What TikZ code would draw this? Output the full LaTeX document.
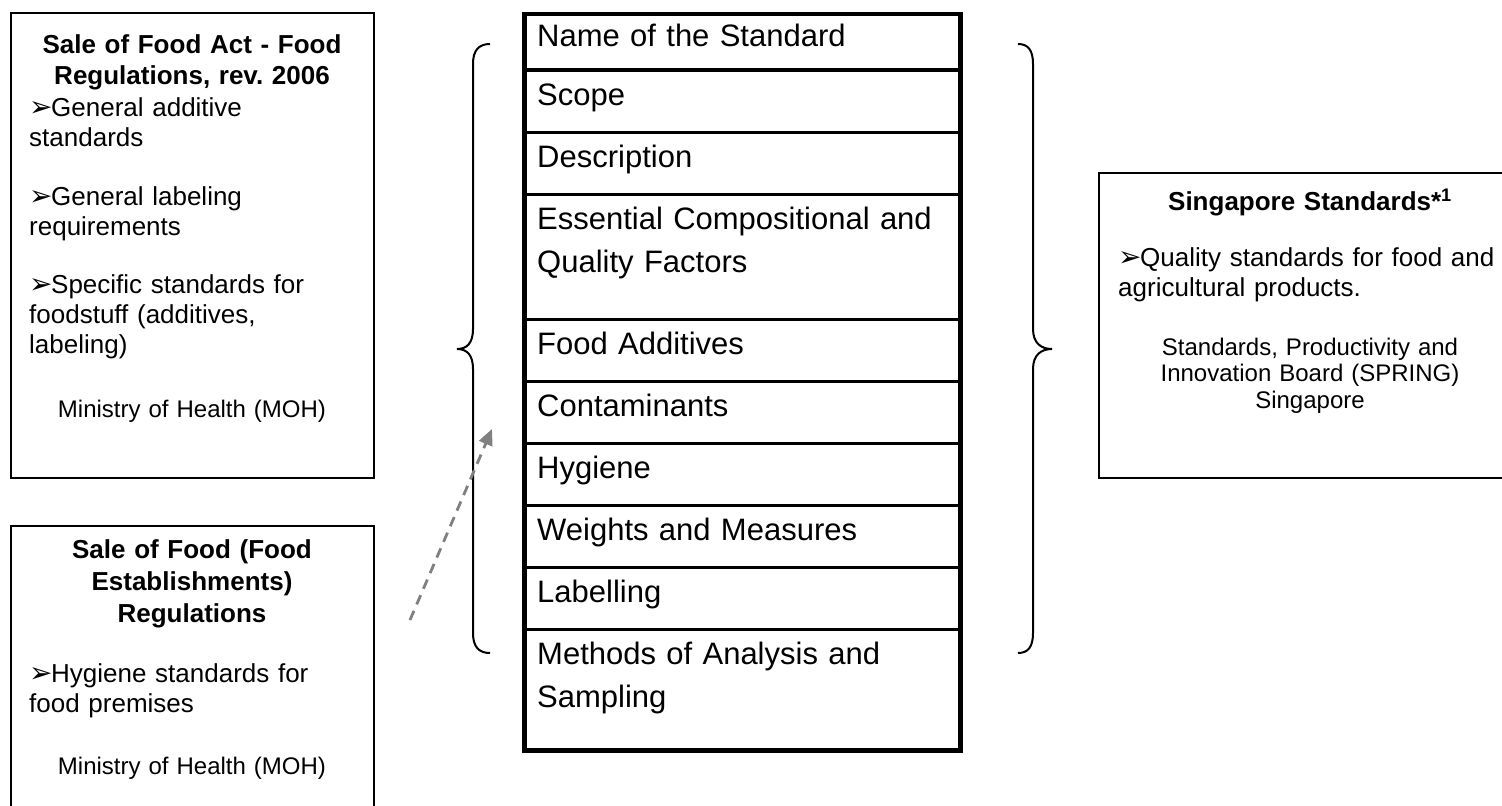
\documentclass[tikz,border=0pt]{standalone}
\usepackage{fontspec}
\setmainfont{Liberation Sans}
\newfontfamily\dejavu{DejaVu Sans}
\usetikzlibrary{arrows.meta}
\frenchspacing
% arrowhead bullet used in the text boxes
\newcommand\arrbullet{\makebox[22bp][l]{\dejavu\fontsize{28bp}{28bp}\selectfont ➢}}
\definecolor{dashgray}{HTML}{808080}
\begin{document}
\begin{tikzpicture}[x=1bp,y=-1bp,
  frame/.style={draw=black,line width=2bp,inner sep=0pt,anchor=north west},
  heading/.style={inner sep=0pt,anchor=base,align=center,text width=340bp,
    font=\bfseries\fontsize{26bp}{30bp}\selectfont},
  bullettext/.style={inner sep=0pt,anchor=base west,align=left,text width=380bp,
    font=\fontsize{26bp}{30bp}\selectfont},
  agency/.style={inner sep=0pt,anchor=base,align=center,text width=380bp,
    font=\fontsize{24bp}{26.5bp}\selectfont},
  rowtext/.style={inner sep=0pt,anchor=base west,align=left,text width=420bp,
    font=\fontsize{31bp}{43bp}\selectfont},
  brace/.style={draw=black,line width=2bp},
  hint/.style={draw=dashgray,line width=2.8bp,dash pattern=on 10bp off 7bp,
    -{Triangle[length=16bp,width=14bp,fill=dashgray]}}
]
\fill[white] (0,0) rectangle (1502,805);
\clip (0,0) rectangle (1502,805);

% ---- left: food regulations box ----
\node[frame,minimum width=363bp,minimum height=465bp] (regs) at (10,12) {};
\node[heading] (regsT) at (192,54) {Sale of Food Act - Food\\Regulations, rev. 2006};
\node[bullettext] (regsA) at (29,116) {\arrbullet General additive\\standards};
\node[bullettext] (regsB) at (29,205) {\arrbullet General labeling\\requirements};
\node[bullettext] (regsC) at (29,293) {\arrbullet Specific standards for\\foodstuff (additives,\\labeling)};
\node[agency] (regsM) at (192,417) {Ministry of Health (MOH)};

% ---- left: food establishments box ----
\node[frame,minimum width=363bp,minimum height=290bp] (estab) at (10,525) {};
\node[heading,font=\bfseries\fontsize{26bp}{32bp}\selectfont] (estabT) at (192,558)
  {Sale of Food (Food\\Establishments)\\Regulations};
\node[bullettext] (estabA) at (29,682) {\arrbullet Hygiene standards for\\food premises};
\node[agency] (estabM) at (192,774) {Ministry of Health (MOH)};

% ---- right: Singapore standards box ----
\node[frame,minimum width=410bp,minimum height=305bp] (sgs) at (1098,172) {};
\node[heading] (sgsT) at (1310,210) {Singapore Standards*\textsuperscript{1}};
\node[bullettext] (sgsA) at (1118,266) {\arrbullet Quality standards for food and\\agricultural products.};
\node[agency] (sgsM) at (1310,355) {Standards, Productivity and\\Innovation Board (SPRING)\\Singapore};

% ---- centre: elements of a standard ----
\node[draw=black,line width=4.5bp,inner sep=0pt,anchor=north west,
  minimum width=436bp,minimum height=736bp] (tbl) at (522,12) {};
\foreach \yy in {70,132,194,319,381,443,505,567,629}
  \draw[line width=3bp] (522,\yy) -- (958,\yy);
\node[rowtext] (r1)  at (537,47)  {Name of the Standard};
\node[rowtext] (r2)  at (537,105) {Scope};
\node[rowtext] (r3)  at (537,167) {Description};
\node[rowtext] (r4)  at (537,229) {Essential Compositional and\\Quality Factors};
\node[rowtext] (r5)  at (537,354) {Food Additives};
\node[rowtext] (r6)  at (537,416) {Contaminants};
\node[rowtext] (r7)  at (537,478) {Hygiene};
\node[rowtext] (r8)  at (537,540) {Weights and Measures};
\node[rowtext] (r9)  at (537,602) {Labelling};
\node[rowtext] (r10) at (537,664) {Methods of Analysis and\\Sampling};

% ---- braces ----
\draw[brace] (490,44) .. controls (479,44) and (473,50) .. (473,64)
  -- (473,329) .. controls (473,343) and (467,349) .. (457,349)
  .. controls (467,349) and (473,355) .. (473,369)
  -- (473,633) .. controls (473,647) and (479,653) .. (490,653);
\draw[brace] (1018,44) .. controls (1028,44) and (1033,50) .. (1033,64)
  -- (1033,329) .. controls (1033,343) and (1041,349) .. (1052,349)
  .. controls (1041,349) and (1033,355) .. (1033,369)
  -- (1033,633) .. controls (1033,647) and (1028,653) .. (1018,653);

% ---- dashed pointer ----
\coordinate (hintS) at (410,620);
\coordinate (hintE) at (492,429);
\draw[hint] (hintS) -- (hintE);
\end{tikzpicture}
\end{document}
